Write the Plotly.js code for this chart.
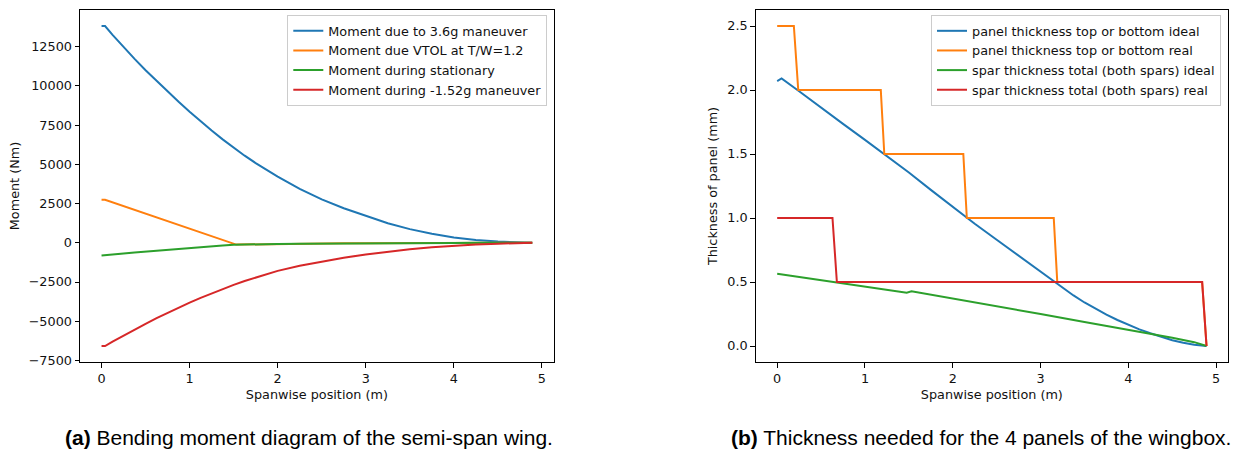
<!DOCTYPE html>
<html>
<head>
<meta charset="utf-8">
<script src="https://cdn.plot.ly/plotly-3.0.1.min.js"></script>
<style>
  html, body { margin: 0; padding: 0; background: #fff; }
  #chart { width: 1235px; height: 453px; }
</style>
</head>
<body>
<div id="chart"></div>
<script>
// ---------- data: (a) bending moment ----------
const spanMoment = [0, 0.04, 0.125, 0.25, 0.375, 0.5, 0.625, 0.75, 0.875, 1.0, 1.125, 1.25, 1.375, 1.5, 1.625, 1.75, 1.875, 2.0, 2.25, 2.5, 2.75, 3.0, 3.25, 3.5, 3.75, 4.0, 4.25, 4.5, 4.75, 4.89];
const momentManeuver = [13810, 13810, 13250, 12450, 11720, 11000, 10310, 9650, 8990, 8350, 7740, 7150, 6590, 6050, 5550, 5080, 4640, 4220, 3440, 2770, 2200, 1700, 1250, 870, 570, 340, 180, 80, 20, 0];
const momentStationary = [-815, -800, -755, -690, -627, -565, -505, -445, -387, -330, -275, -220, -170, -125, -105, -95, -85, -75, -58, -45, -35, -28, -21, -15, -10, -7, -4, -2, -1, 0];
const momentNegManeuver = [-6580, -6580, -6305, -5911, -5530, -5161, -4805, -4461, -4130, -3811, -3506, -3216, -2941, -2681, -2436, -2206, -1991, -1791, -1466, -1191, -953, -741, -561, -411, -286, -186, -111, -56, -18, 0];
const spanVTOL = [0, 0.04, 1.53, 1.75, 2.0, 2.25, 2.5, 2.75, 3.0, 3.25, 3.5, 3.75, 4.0, 4.25, 4.5, 4.75, 4.89];
const momentVTOL = [2740, 2740, -115, -95, -75, -58, -45, -35, -28, -21, -15, -10, -7, -4, -2, -1, 0];

// ---------- data: (b) thickness ----------
const spanPanelIdeal = [0, 0.05, 0.25, 0.5, 0.75, 1.0, 1.25, 1.5, 1.75, 2.0, 2.25, 2.5, 2.75, 3.0, 3.125, 3.25, 3.375, 3.5, 3.625, 3.75, 3.875, 4.0, 4.125, 4.25, 4.375, 4.5, 4.625, 4.75, 4.89];
const panelIdeal = [2.07, 2.09, 1.99, 1.86, 1.735, 1.61, 1.485, 1.355, 1.22, 1.085, 0.955, 0.83, 0.705, 0.58, 0.518, 0.455, 0.395, 0.34, 0.29, 0.245, 0.203, 0.165, 0.13, 0.1, 0.07, 0.045, 0.025, 0.01, 0];
const spanPanelReal = [0, 0.19, 0.24, 1.18, 1.22, 2.12, 2.16, 3.15, 3.19, 4.84, 4.89];
const panelReal = [2.5, 2.5, 2.0, 2.0, 1.5, 1.5, 1.0, 1.0, 0.5, 0.5, 0];
const spanSparIdeal = [0, 0.25, 0.5, 0.68, 1.0, 1.25, 1.475, 1.53, 2.0, 2.5, 3.0, 3.5, 4.0, 4.25, 4.5, 4.75, 4.89];
const sparIdeal = [0.565, 0.54, 0.518, 0.5, 0.468, 0.443, 0.417, 0.427, 0.372, 0.312, 0.25, 0.188, 0.127, 0.097, 0.065, 0.03, 0];
const spanSparReal = [0, 0.63, 0.68, 4.84, 4.89];
const sparReal = [1.0, 1.0, 0.5, 0.5, 0];

// ---------- labels ----------
const namesA = ["Moment due to 3.6g maneuver", "Moment due VTOL at T/W=1.2", "Moment during stationary", "Moment during -1.52g maneuver"];
const namesB = ["panel thickness top or bottom ideal", "panel thickness top or bottom real", "spar thickness total (both spars) ideal", "spar thickness total (both spars) real"];
const xTickVals = [0, 1, 2, 3, 4, 5];
const xTickText = ["0", "1", "2", "3", "4", "5"];
const momentTickVals = [-7500, -5000, -2500, 0, 2500, 5000, 7500, 10000, 12500];
const momentTickText = ["\u22127500", "\u22125000", "\u22122500", "0", "2500", "5000", "7500", "10000", "12500"];
const thickTickVals = [0, 0.5, 1.0, 1.5, 2.0, 2.5];
const thickTickText = ["0.0", "0.5", "1.0", "1.5", "2.0", "2.5"];
const captionA = "<b>(a)</b> Bending moment diagram of the semi-span wing.";
const captionB = "<b>(b)</b> Thickness needed for the 4 panels of the wingbox.";

const C = ["#1f77b4", "#ff7f0e", "#2ca02c", "#d62728"];
const LW = 2;
const FONT = "DejaVu Sans, sans-serif";
const FS = 12.8;

function tr(x, y, name, color, xa, ya, leg) {
  return { x: x, y: y, name: name, type: "scatter", mode: "lines",
           line: { color: color, width: LW }, xaxis: xa, yaxis: ya, legend: leg };
}

const data = [
  tr(spanMoment, momentManeuver, namesA[0], C[0], "x", "y", "legend"),
  tr(spanVTOL, momentVTOL, namesA[1], C[1], "x", "y", "legend"),
  tr(spanMoment, momentStationary, namesA[2], C[2], "x", "y", "legend"),
  tr(spanMoment, momentNegManeuver, namesA[3], C[3], "x", "y", "legend"),
  tr(spanPanelIdeal, panelIdeal, namesB[0], C[0], "x2", "y2", "legend2"),
  tr(spanPanelReal, panelReal, namesB[1], C[1], "x2", "y2", "legend2"),
  tr(spanSparIdeal, sparIdeal, namesB[2], C[2], "x2", "y2", "legend2"),
  tr(spanSparReal, sparReal, namesB[3], C[3], "x2", "y2", "legend2")
];

const W = 1235, H = 453;
const mL = 80, mR = 6.5, mT = 10, mB = 91;
const pw = W - mL - mR, ph = H - mT - mB;
const px = v => (v - mL) / pw;       // pixel x -> paper
const py = v => (H - mB - v) / ph;   // pixel y -> paper

function axisCommon() {
  return {
    showgrid: false, zeroline: false,
    showline: true, mirror: true, linecolor: "#000", linewidth: 1,
    ticks: "outside", ticklen: 4.5, tickwidth: 1, tickcolor: "#000",
    tickfont: { family: FONT, size: FS, color: "#111" },
    tickmode: "array", fixedrange: true
  };
}

const legendCommon = {
  bgcolor: "rgba(255,255,255,0.8)", bordercolor: "#cccccc", borderwidth: 1,
  font: { family: FONT, size: FS, color: "#111" },
  xanchor: "right", yanchor: "top", xref: "paper", yref: "paper",
  tracegroupgap: 0
};

const layout = {
  width: W, height: H,
  margin: { l: mL, r: mR, t: mT, b: mB, pad: 0 },
  paper_bgcolor: "#fff", plot_bgcolor: "#fff",
  showlegend: true,
  xaxis: Object.assign(axisCommon(), {
    domain: [0, px(554)], range: [-0.2445, 5.1345], anchor: "y",
    tickvals: xTickVals, ticktext: xTickText,
    title: { text: "Spanwise position (m)", font: { family: FONT, size: FS, color: "#111" }, standoff: 5 }
  }),
  yaxis: Object.assign(axisCommon(), {
    domain: [0, 1], range: [-7597, 14834], anchor: "x",
    tickvals: momentTickVals, ticktext: momentTickText,
    title: { text: "Moment (Nm)", font: { family: FONT, size: FS, color: "#111" }, standoff: 6 }
  }),
  xaxis2: Object.assign(axisCommon(), {
    domain: [px(756), 1], range: [-0.2445, 5.1345], anchor: "y2",
    tickvals: xTickVals, ticktext: xTickText,
    title: { text: "Spanwise position (m)", font: { family: FONT, size: FS, color: "#111" }, standoff: 5 }
  }),
  yaxis2: Object.assign(axisCommon(), {
    domain: [0, 1], range: [-0.125, 2.625], anchor: "x2",
    tickvals: thickTickVals, ticktext: thickTickText,
    title: { text: "Thickness of panel (mm)", font: { family: FONT, size: FS, color: "#111" }, standoff: 6 }
  }),
  legend: Object.assign({}, legendCommon, { x: px(547.5), y: py(15) }),
  legend2: Object.assign({}, legendCommon, { x: px(1221.5), y: py(15) }),
  annotations: [
    { text: captionA, xref: "paper", yref: "paper", x: px(309), y: py(437),
      xanchor: "center", yanchor: "middle", showarrow: false,
      font: { family: "Liberation Sans, Arial, sans-serif", size: 21, color: "#000" } },
    { text: captionB, xref: "paper", yref: "paper", x: px(981), y: py(437),
      xanchor: "center", yanchor: "middle", showarrow: false,
      font: { family: "Liberation Sans, Arial, sans-serif", size: 21, color: "#000" } }
  ]
};

Plotly.newPlot("chart", data, layout, { displayModeBar: false, staticPlot: true });
</script>
</body>
</html>
